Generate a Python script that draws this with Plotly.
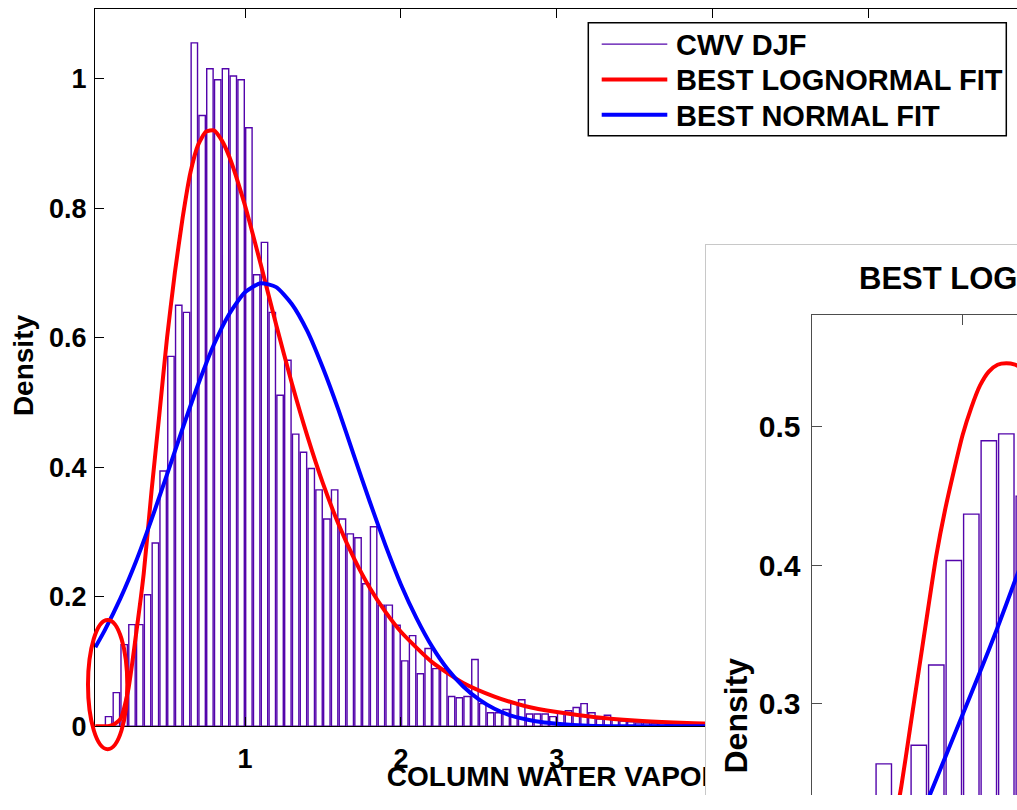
import plotly.graph_objects as go

# ---------------- main histogram: CWV DJF (density, bin width 0.05) ----------------
BIN_START = 0.10
BIN_WIDTH = 0.05
cwv_density = [
    0.015, 0.052, 0.126, 0.157, 0.157, 0.203, 0.283, 0.394, 0.571, 0.650,
    0.639, 1.055, 0.943, 1.015, 0.998, 1.015, 1.004, 0.998, 0.924, 0.697,
    0.747, 0.639, 0.511, 0.565, 0.451, 0.423, 0.398, 0.365, 0.320, 0.365,
    0.320, 0.297, 0.291, 0.220, 0.308, 0.187, 0.187, 0.156, 0.101, 0.140,
    0.081, 0.120, 0.089, 0.089, 0.046, 0.044, 0.046, 0.103, 0.035, 0.021,
    0.021, 0.026, 0.035, 0.041, 0.019, 0.019, 0.019, 0.015, 0.020, 0.024,
    0.029, 0.035, 0.021, 0.011, 0.017, 0.010, 0.008, 0.007, 0.005, 0.005,
    0.004, 0.004, 0.003, 0.002, 0.003, 0.002, 0.002, 0.001,
]
bin_centers = [BIN_START + BIN_WIDTH * (i + 0.5) for i in range(len(cwv_density))]

# best lognormal fit
logn_x = [0.04, 0.10, 0.15, 0.20, 0.25, 0.30, 0.35, 0.40, 0.45, 0.50, 0.55, 0.60,
          0.65, 0.70, 0.75, 0.80, 0.85, 0.90, 1.00, 1.10, 1.20, 1.30, 1.40, 1.50,
          1.60, 1.70, 1.80, 1.90, 2.00, 2.20, 2.40, 2.60, 2.80, 3.00, 3.25, 3.50,
          3.75, 4.00, 4.50, 5.00, 5.50, 5.95]
logn_y = [0.0, 0.0, 0.002, 0.011, 0.055, 0.140, 0.235, 0.362, 0.480, 0.600, 0.700, 0.785,
          0.855, 0.898, 0.918, 0.920, 0.905, 0.879, 0.804, 0.714, 0.620, 0.530, 0.448, 0.375,
          0.312, 0.259, 0.214, 0.177, 0.146, 0.099, 0.067, 0.046, 0.031, 0.022, 0.014, 0.009,
          0.006, 0.004, 0.002, 0.001, 0.0004, 0.0002]

# best normal fit
norm_x = [0.04, 0.10, 0.20, 0.30, 0.40, 0.50, 0.60, 0.70, 0.80, 0.90, 1.00, 1.10,
          1.20, 1.30, 1.40, 1.50, 1.60, 1.70, 1.80, 1.90, 2.00, 2.10, 2.20, 2.30,
          2.40, 2.50, 2.60, 2.70, 2.80, 2.90, 3.00, 3.20, 3.50, 4.00, 5.00, 5.95]
norm_y = [0.122, 0.148, 0.197, 0.254, 0.319, 0.389, 0.460, 0.528, 0.589, 0.637, 0.670, 0.684,
          0.678, 0.652, 0.610, 0.553, 0.488, 0.417, 0.347, 0.280, 0.219, 0.167, 0.123, 0.088,
          0.0615, 0.0415, 0.027, 0.017, 0.011, 0.0065, 0.004, 0.001, 0.0001, 0.0, 0.0, 0.0]

# ---------------- inset panel: zoomed lognormal view ----------------
inset_centers = [0.55, 0.65, 0.75, 0.85, 0.95, 1.05, 1.15, 1.25, 1.35]
inset_density = [0.2565, 0.225, 0.270, 0.328, 0.4035, 0.437, 0.490, 0.495, 0.450]
inset_logn_x = [0.60, 0.65, 0.70, 0.75, 0.80, 0.85, 0.90, 0.95, 1.00, 1.05, 1.10, 1.15,
                1.20, 1.25, 1.30, 1.35]
inset_logn_y = [0.205, 0.240, 0.282, 0.324, 0.366, 0.407, 0.440, 0.468, 0.494, 0.514, 0.530, 0.540,
                0.545, 0.546, 0.545, 0.542]
inset_norm_x = [0.75, 0.80, 0.90, 1.00, 1.10, 1.20, 1.30, 1.35]
inset_norm_y = [0.214, 0.230, 0.261, 0.292, 0.323, 0.355, 0.389, 0.406]

y_ticks = [0, 0.2, 0.4, 0.6, 0.8, 1]
y_ticktext = ["0", "0.2", "0.4", "0.6", "0.8", "1"]
x_ticks = [1, 2, 3, 4, 5]
inset_y_ticks = [0.3, 0.4, 0.5]
inset_y_ticktext = ["0.3", "0.4", "0.5"]

legend_labels = ["CWV DJF", "BEST LOGNORMAL FIT", "BEST NORMAL FIT"]
x_title = "COLUMN WATER VAPOR"

PURPLE = "#5304ab"
RED = "#ff0000"
BLUE = "#0000ff"
FONT = "Liberation Sans, Arial, Helvetica, sans-serif"
W, H = 1017, 810
MAIN_RANGE = [0.0378, 5.952]


def px(x):
    return x / W


def py(y):
    return (H - y) / H


fig = go.Figure()

# ---- subplot x/y: main histogram and fits
fig.add_trace(go.Bar(
    x=bin_centers, y=cwv_density, width=BIN_WIDTH * 0.82,
    marker=dict(color="white", line=dict(color=PURPLE, width=1.4)),
    name=legend_labels[0], showlegend=False, hoverinfo="skip",
    xaxis="x", yaxis="y",
))
fig.add_trace(go.Scatter(
    x=logn_x, y=logn_y, mode="lines", line=dict(color=RED, width=4, shape="spline", smoothing=0.6),
    name=legend_labels[1], showlegend=False, xaxis="x", yaxis="y",
))
fig.add_trace(go.Scatter(
    x=norm_x, y=norm_y, mode="lines", line=dict(color=BLUE, width=4, shape="spline", smoothing=0.6),
    name=legend_labels[2], showlegend=False, xaxis="x", yaxis="y",
))

# ---- subplot x2/y2: strip under the main axes that carries the x-axis title,
# so the inset card drawn later sits on top of it
fig.add_trace(go.Scatter(
    x=[1.91], y=[0.34], mode="text", text=[x_title],
    textposition="middle right", cliponaxis=False,
    textfont=dict(family=FONT, size=28, color="black", weight="bold"),
    showlegend=False, hoverinfo="skip", xaxis="x2", yaxis="y2",
))

# ---- subplot x3/y3: white card framing the inset
fig.add_trace(go.Scatter(x=[], y=[], mode="lines", showlegend=False, hoverinfo="skip",
                         xaxis="x3", yaxis="y3"))

# ---- subplot x4/y4: inset chart
fig.add_trace(go.Bar(
    x=inset_centers, y=inset_density, width=0.1 * 0.88,
    marker=dict(color="white", line=dict(color=PURPLE, width=1.4)),
    showlegend=False, hoverinfo="skip", xaxis="x4", yaxis="y4",
))
fig.add_trace(go.Scatter(
    x=inset_logn_x, y=inset_logn_y, mode="lines",
    line=dict(color=RED, width=4, shape="spline", smoothing=0.6),
    showlegend=False, xaxis="x4", yaxis="y4",
))
fig.add_trace(go.Scatter(
    x=inset_norm_x, y=inset_norm_y, mode="lines",
    line=dict(color=BLUE, width=4, shape="spline", smoothing=0.6),
    showlegend=False, xaxis="x4", yaxis="y4",
))

tickfont = dict(family=FONT, size=27, color="black", weight="bold")
hidden = dict(visible=False, showgrid=False, zeroline=False, fixedrange=True)

fig.update_layout(
    width=W, height=H,
    margin=dict(l=0, r=0, t=0, b=0),
    paper_bgcolor="white", plot_bgcolor="white",
    barmode="overlay",
    xaxis=dict(
        domain=[px(95), 1], range=MAIN_RANGE, anchor="y",
        tickvals=x_ticks, ticks="inside", ticklen=9, tickwidth=1, tickcolor="black",
        showline=True, linecolor="black", linewidth=1.3, mirror="ticks",
        showgrid=False, zeroline=False, tickfont=tickfont, ticklabelstandoff=8,
    ),
    yaxis=dict(
        domain=[py(740), py(9)], range=[0, 1.1076], anchor="x",
        tickvals=y_ticks, ticktext=y_ticktext, ticks="inside", ticklen=9, tickwidth=1,
        tickcolor="black", showline=True, linecolor="black", linewidth=1.3, mirror=False,
        showgrid=False, zeroline=False, tickfont=tickfont, ticklabelstandoff=2,
    ),
    xaxis2=dict(domain=[px(95), 1], range=MAIN_RANGE, anchor="y2", **hidden),
    yaxis2=dict(domain=[0, py(761.4)], range=[0, 1], anchor="x2", **hidden),
    xaxis3=dict(
        domain=[px(706), 1], range=[0, 1], anchor="y3", side="top",
        showline=True, linecolor="#c8c8c8", linewidth=1, mirror=False,
        showticklabels=False, ticks="", showgrid=False, zeroline=False,
    ),
    yaxis3=dict(
        domain=[0, py(250)], range=[0, 1], anchor="x3",
        showline=True, linecolor="#c8c8c8", linewidth=1, mirror=False,
        showticklabels=False, ticks="", showgrid=False, zeroline=False,
    ),
    xaxis4=dict(
        domain=[px(811.7), 1], range=[0.1383, 1.311], anchor="y4", side="top",
        tickvals=[1.0], ticks="inside", ticklen=10, tickwidth=1, tickcolor="#4d4d4d",
        showline=True, linecolor="#4d4d4d", linewidth=1.3, mirror=False,
        showticklabels=False, showgrid=False, zeroline=False,
    ),
    yaxis4=dict(
        domain=[0, py(320.7)], range=[0.234, 0.5811], anchor="x4",
        tickvals=inset_y_ticks, ticktext=inset_y_ticktext, ticks="inside", ticklen=10,
        tickwidth=1, tickcolor="#4d4d4d", showline=True, linecolor="#4d4d4d", linewidth=1.3,
        mirror=False, showgrid=False, zeroline=False,
        tickfont=dict(family=FONT, size=30, color="black", weight="bold"), ticklabelstandoff=4,
    ),
)

annotations = [
    dict(text="Density", x=px(23), y=py(372), xref="paper", yref="paper", textangle=-90,
         showarrow=False, xanchor="center", yanchor="middle",
         font=dict(family=FONT, size=28, color="black", weight="bold")),
    dict(text="BEST LOGNORMAL FIT", x=px(857), y=py(284), xref="paper", yref="paper",
         showarrow=False, xanchor="left", yanchor="middle",
         font=dict(family=FONT, size=31, color="black", weight="bold")),
    dict(text="Density", x=px(735), y=py(729), xref="paper", yref="paper", textangle=-90,
         showarrow=False, xanchor="center", yanchor="middle",
         font=dict(family=FONT, size=32, color="black", weight="bold")),
]

# legend drawn as a boxed key
legend_colors = [PURPLE, RED, BLUE]
legend_widths = [1.3, 4, 4]
legend_rows = [45, 81, 117]
shapes = [
    dict(type="rect", xref="paper", yref="paper", x0=px(588.3), x1=px(1006.3),
         y0=py(138.3), y1=py(23.3), line=dict(color="black", width=1.5),
         fillcolor="white", layer="above"),
]
for lab, col, lw, row in zip(legend_labels, legend_colors, legend_widths, legend_rows):
    shapes.append(dict(type="line", xref="paper", yref="paper", x0=px(601.7), x1=px(667.3),
                       y0=py(row), y1=py(row), line=dict(color=col, width=lw), layer="above"))
    annotations.append(dict(text=lab, x=px(673.5), y=py(row + 1), xref="paper", yref="paper",
                            showarrow=False, xanchor="left", yanchor="middle",
                            font=dict(family=FONT, size=29, color="black", weight="bold")))

# red ring highlighting the low-CWV tail
shapes.append(dict(type="circle", xref="paper", yref="paper",
                   x0=px(88), x1=px(127.3), y0=py(763.3), y1=py(631.7),
                   line=dict(color=RED, width=4), layer="above"))

fig.update_layout(annotations=annotations, shapes=shapes)

fig.write_html("out.html")
